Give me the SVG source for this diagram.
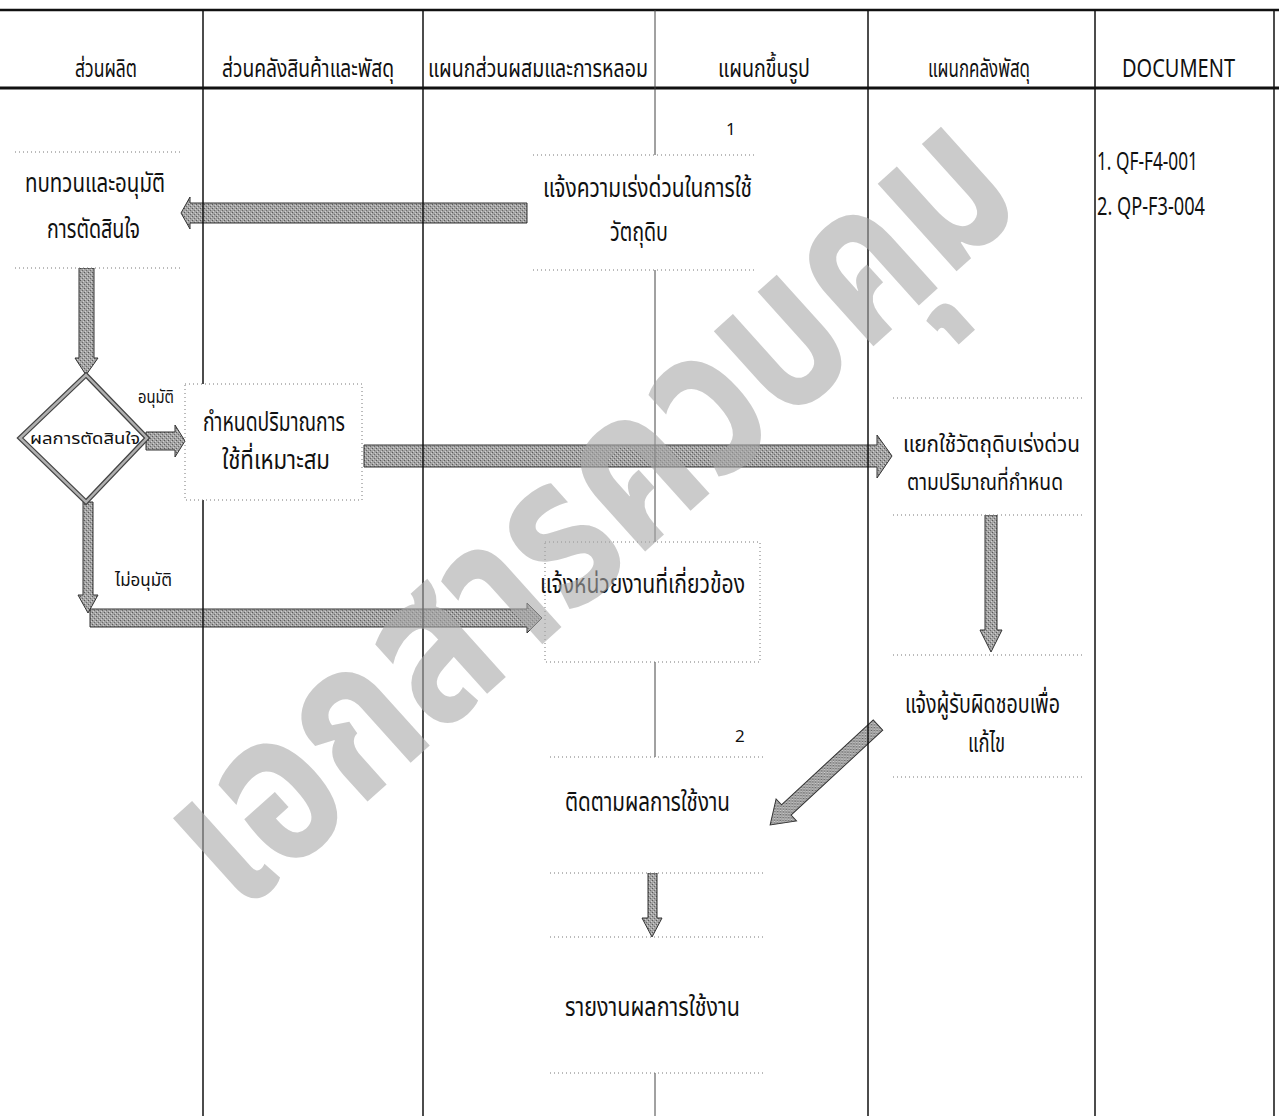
<svg xmlns="http://www.w3.org/2000/svg" width="1279" height="1116" viewBox="0 0 1279 1116">
<defs>
<pattern id="dither" width="4" height="4" patternUnits="userSpaceOnUse">
<rect width="4" height="4" fill="#a3a3a3"/>
<rect x="0" y="0" width="1" height="1" fill="#5a5a5a"/>
<rect x="2" y="2" width="1" height="1" fill="#6a6a6a"/>
<rect x="1" y="3" width="1" height="1" fill="#d0d0d0"/>
<rect x="3" y="1" width="1" height="1" fill="#d0d0d0"/>
</pattern>
</defs>
<style>
.t{font-family:"Noto Sans Thai","Noto Sans","DejaVu Sans",sans-serif;fill:#111;}
.h{font-size:25px;}
.b{font-size:26px;}
.m{font-size:23px;}
.s{font-size:16px;}
.lane{stroke:#111;stroke-width:1.5;fill:none;}
.arr{fill:url(#dither);stroke:#333;stroke-width:1;}
.box{fill:#fff;stroke:none;}
.dot{stroke:#777;stroke-width:1;stroke-dasharray:1 3;fill:none;}
.wm{font-family:"Noto Sans Thai","Noto Sans","DejaVu Sans",sans-serif;font-weight:bold;fill:#a8a8a8;fill-opacity:0.6;}
</style>
<rect width="1279" height="1116" fill="#fff"/>

<g id="connectors">
<polygon class="arr" points="527,203 190,203 190,197 181,213 190,229 190,223 527,223"/>
<polygon class="arr" points="79,268 94,268 94,358 98,358 86,375 75,358 79,358"/>
<polygon class="arr" points="146,432 175,432 175,425 185,441 175,457 175,450 146,450"/>
<polygon class="arr" points="364,445 877,445 877,435 892,456 877,478 877,467 364,467"/>
<polygon class="arr" points="83,502 93,502 93,595 98,595 88,613 78,595 83,595"/>
<polygon class="arr" points="90,609 527,609 527,603 542,618 527,633 527,627 90,627"/>
<polygon class="arr" points="985,515 997,515 997,630 1002,630 991,652 980,630 985,630"/>
<polygon class="arr" transform="translate(878,725) rotate(137.2)" points="0,-7 125,-7 125,-15 147,0 125,15 125,7 0,7"/>
<polygon class="arr" points="648,873 657,873 657,918 662,918 652,937 642,918 648,918"/>
</g>

<g id="lanes">
<line class="lane" x1="0" y1="10" x2="1279" y2="10" style="stroke-width:2.5"/>
<line class="lane" x1="0" y1="88" x2="1279" y2="88" style="stroke-width:3"/>
<line class="lane" x1="203" y1="10" x2="203" y2="1116"/>
<line class="lane" x1="423" y1="10" x2="423" y2="1116"/>
<line class="lane" x1="655" y1="10" x2="655" y2="873" style="stroke:#444;stroke-width:1"/>
<line class="lane" x1="655" y1="937" x2="655" y2="1116" style="stroke:#444;stroke-width:1"/>
<line class="lane" x1="868" y1="10" x2="868" y2="1116"/>
<line class="lane" x1="1095" y1="10" x2="1095" y2="1116"/>
<line class="lane" x1="1274" y1="10" x2="1274" y2="1116"/>
</g>

<g id="headers">
<text class="t h" x="75" y="77" textLength="62" lengthAdjust="spacingAndGlyphs">ส่วนผลิต</text>
<text class="t h" x="222" y="77" textLength="172" lengthAdjust="spacingAndGlyphs">ส่วนคลังสินค้าและพัสดุ</text>
<text class="t h" x="428" y="77" textLength="220" lengthAdjust="spacingAndGlyphs">แผนกส่วนผสมและการหลอม</text>
<text class="t h" x="718" y="77" textLength="92" lengthAdjust="spacingAndGlyphs">แผนกขึ้นรูป</text>
<text class="t h" x="928" y="77" textLength="102" lengthAdjust="spacingAndGlyphs">แผนกคลังพัสดุ</text>
<text class="t h" x="1122" y="77" textLength="113" lengthAdjust="spacingAndGlyphs">DOCUMENT</text>
</g>

<g id="n1">
<rect class="box" x="15" y="152" width="165" height="116"/>
<line class="dot" x1="15" y1="152" x2="180" y2="152"/>
<line class="dot" x1="15" y1="268" x2="180" y2="268"/>
<text class="t b" x="25" y="192" textLength="140" lengthAdjust="spacingAndGlyphs">ทบทวนและอนุมัติ</text>
<text class="t b" x="47" y="238" textLength="93" lengthAdjust="spacingAndGlyphs">การตัดสินใจ</text>
</g>

<g id="n2">
<rect class="box" x="533" y="155" width="224" height="115"/>
<line class="dot" x1="533" y1="155" x2="757" y2="155"/>
<line class="dot" x1="533" y1="270" x2="757" y2="270"/>
<text class="t b" x="726" y="135" style="font-size:17px">1</text>
<text class="t b" x="543" y="197" textLength="209" lengthAdjust="spacingAndGlyphs">แจ้งความเร่งด่วนในการใช้</text>
<text class="t b" x="610" y="241" textLength="58" lengthAdjust="spacingAndGlyphs">วัตถุดิบ</text>
</g>

<g id="n3">
<polygon points="86,375 147,438 86,502 20,438" fill="#fff" stroke="#444" stroke-width="5" stroke-linejoin="miter"/>
<polygon points="86,375 147,438 86,502 20,438" fill="none" stroke="#b0b0b0" stroke-width="2.5"/>
<text class="t s" x="30" y="444" textLength="110" lengthAdjust="spacingAndGlyphs">ผลการตัดสินใจ</text>
</g>

<g id="l_approve">
<text class="t" x="138" y="403" style="font-size:18px" textLength="36" lengthAdjust="spacingAndGlyphs">อนุมัติ</text>
</g>
<g id="l_reject">
<text class="t" x="115" y="586" style="font-size:18px" textLength="57" lengthAdjust="spacingAndGlyphs">ไม่อนุมัติ</text>
</g>

<g id="n4">
<rect class="box" x="185" y="384" width="177" height="116"/>
<rect class="dot" x="185" y="384" width="177" height="116"/>
<text class="t b" x="203" y="431" textLength="142" lengthAdjust="spacingAndGlyphs">กำหนดปริมาณการ</text>
<text class="t b" x="222" y="469" textLength="108" lengthAdjust="spacingAndGlyphs">ใช้ที่เหมาะสม</text>
</g>

<g id="n5">
<rect class="box" x="893" y="398" width="192" height="117"/>
<line class="dot" x1="893" y1="398" x2="1085" y2="398"/>
<line class="dot" x1="893" y1="515" x2="1085" y2="515"/>
<text class="t m" x="903" y="452" textLength="177" lengthAdjust="spacingAndGlyphs">แยกใช้วัตถุดิบเร่งด่วน</text>
<text class="t m" x="907" y="490" textLength="156" lengthAdjust="spacingAndGlyphs">ตามปริมาณที่กำหนด</text>
</g>

<g id="n6">
<rect class="box" x="545" y="542" width="215" height="120"/>
<rect class="dot" x="545" y="542" width="215" height="120"/>
<text class="t b" x="540" y="593" textLength="205" lengthAdjust="spacingAndGlyphs">แจ้งหน่วยงานที่เกี่ยวข้อง</text>
</g>

<g id="n7">
<rect class="box" x="893" y="655" width="192" height="122"/>
<line class="dot" x1="893" y1="655" x2="1085" y2="655"/>
<line class="dot" x1="893" y1="777" x2="1085" y2="777"/>
<text class="t b" x="905" y="713" textLength="155" lengthAdjust="spacingAndGlyphs">แจ้งผู้รับผิดชอบเพื่อ</text>
<text class="t b" x="968" y="752" textLength="37" lengthAdjust="spacingAndGlyphs">แก้ไข</text>
</g>

<g id="n8">
<rect class="box" x="550" y="757" width="215" height="116"/>
<line class="dot" x1="550" y1="757" x2="765" y2="757"/>
<line class="dot" x1="550" y1="873" x2="765" y2="873"/>
<text class="t b" x="735" y="742" style="font-size:17px">2</text>
<text class="t b" x="565" y="811" textLength="165" lengthAdjust="spacingAndGlyphs">ติดตามผลการใช้งาน</text>
</g>

<g id="n9">
<rect class="box" x="550" y="937" width="215" height="136"/>
<line class="dot" x1="550" y1="937" x2="765" y2="937"/>
<line class="dot" x1="550" y1="1073" x2="765" y2="1073"/>
<text class="t b" x="565" y="1016" textLength="175" lengthAdjust="spacingAndGlyphs">รายงานผลการใช้งาน</text>
</g>

<g id="docs">
<text class="t b" x="1097" y="170" textLength="101" lengthAdjust="spacingAndGlyphs">1. QF-F4-001</text>
<text class="t b" x="1097" y="215" textLength="108" lengthAdjust="spacingAndGlyphs">2. QP-F3-004</text>
</g>

<g id="watermark">
<text class="wm" x="598" y="575" text-anchor="middle" style="font-size:215px" textLength="1060" lengthAdjust="spacingAndGlyphs" transform="rotate(-42 598 520)">เอกสารควบคุม</text>
</g>
</svg>
